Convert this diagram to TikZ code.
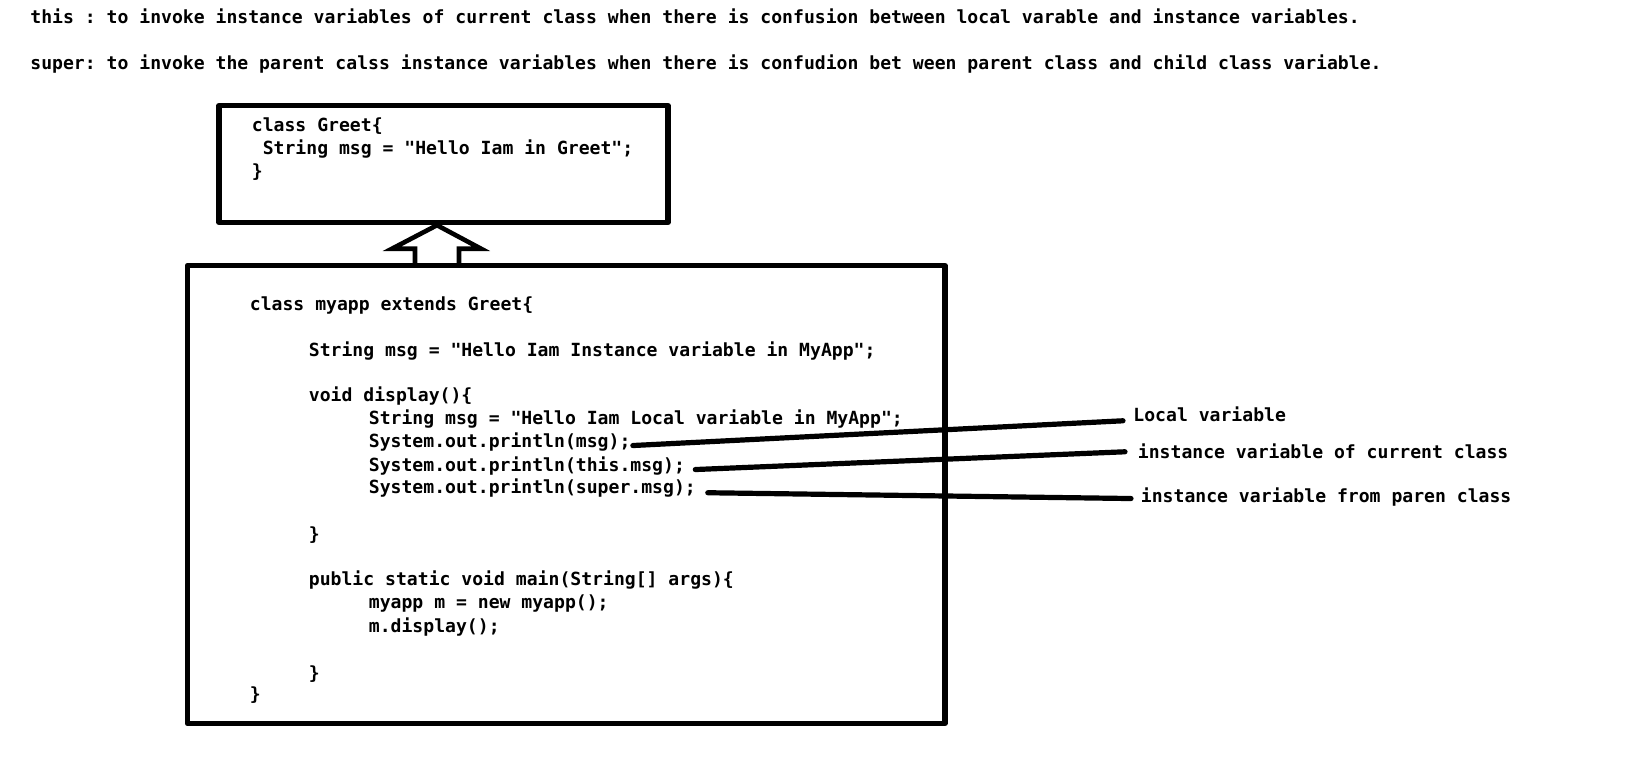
\documentclass[tikz,border=0pt]{standalone}
\usepackage{fontspec}
\setmonofont{DejaVu Sans Mono}
\usetikzlibrary{calc,positioning}

\begin{document}
\begin{tikzpicture}[line cap=round,line join=round,x=0.5pt,y=-0.5pt,
  code/.style={anchor=base west,inner sep=0pt,font=\ttfamily\bfseries\fontsize{9.05pt}{11pt}\selectfont},
  classbox/.style={draw,line width=2.7pt,inner sep=0pt},
  leader/.style={line width=2.6pt}]
\useasboundingbox (0,0) rectangle (1625,756);

% the two notes
\node[code] (thisdef) at (30,23.5) {this : to invoke instance variables of current class when there is confusion between local varable and instance variables.};
\node[code] (superdef) at (30,69) {super: to invoke the parent calss instance variables when there is confudion bet ween parent class and child class variable.};

% parent class
\node[classbox,minimum width=224.5pt,minimum height=58.5pt] (greet) at (443.5,164) {};
\node[code] (gcls) at (251.5,131) {class Greet\{};
\node[code] (gmsg) at (262.4,154) {String msg = "Hello Iam in Greet";};
\node[code] (gend) at (251.5,177) {\}};

% child class
\node[classbox,minimum width=378.75pt,minimum height=229pt] (myapp) at (566.25,494.5) {};
\node[code] (acls) at (249.5,310) {class myapp extends Greet\{};
\node[code] (amsg) at (308.5,356) {String msg = "Hello Iam Instance variable in MyApp";};
\node[code] (adisp) at (308.5,401) {void display()\{};
\node[code] (alocal) at (368.5,424) {String msg = "Hello Iam Local variable in MyApp";};
\node[code] (pmsg) at (368.5,447) {System.out.println(msg);};
\node[code] (pthis) at (368.5,471) {System.out.println(this.msg);};
\node[code] (psuper) at (368.5,493.5) {System.out.println(super.msg);};
\node[code] (dend) at (308.5,540) {\}};
\node[code] (amain) at (308.5,585.5) {public static void main(String[] args)\{};
\node[code] (anew) at (368.5,608) {myapp m = new myapp();};
\node[code] (acall) at (368.5,632) {m.display();};
\node[code] (mend) at (308.5,679) {\}};
\node[code] (aend) at (249.5,700.5) {\}};

% inheritance arrow
\coordinate (tip) at ($(greet.south)+(-6.5,0)$);
\coordinate (sl) at ($(tip)+(-22,23.5)$);
\coordinate (sr) at ($(tip)+(22,23.5)$);
\draw[line width=2.3pt,line join=miter,line cap=butt] (sl |- myapp.north) -- (sl) -- ++(-23,0) -- (tip) -- ($(sr)+(22,0)$) -- (sr) -- (sr |- myapp.north);

% labels
\node[code] (llocal) at (1133,421) {Local variable};
\node[code] (lcurrent) at (1137.5,458) {instance variable of current class};
\node[code] (lparent) at (1140.5,502) {instance variable from paren class};

\draw[leader] ($(pmsg.east)+(2,4)$) -- ($(llocal.west)+(-10,7)$);
\draw[leader] ($(pthis.east)+(10,4)$) -- ($(lcurrent.west)+(-12.5,1)$);
\draw[leader] ($(psuper.east)+(11.6,4.7)$) -- ($(lparent.west)+(-9.5,2)$);
\end{tikzpicture}
\end{document}
